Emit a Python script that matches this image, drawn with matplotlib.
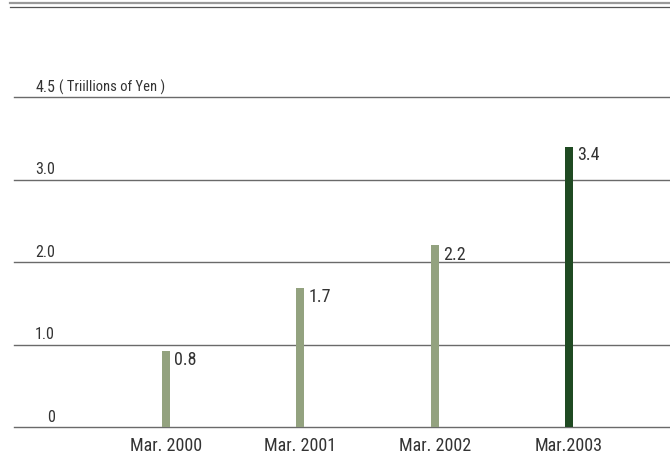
import matplotlib
matplotlib.use("Agg")
import matplotlib.pyplot as plt
from matplotlib.lines import Line2D
import matplotlib.transforms as mtransforms
from matplotlib import font_manager as fm

entries = fm.fontManager.ttflist
names = {f.name for f in entries}
stretch = "normal"
if "Liberation Sans Narrow" in names:
    fam = "Liberation Sans Narrow"
elif "Roboto Condensed" in names:
    fam = "Roboto Condensed"
elif any(f.name == "DejaVu Sans" and "ondensed" in f.fname for f in entries):
    fam = "DejaVu Sans"
    stretch = "condensed"
else:
    fam = "Liberation Sans"
plt.rcParams['font.family'] = [fam, 'DejaVu Sans']
plt.rcParams['font.stretch'] = stretch

categories = ["Mar. 2000", "Mar. 2001", "Mar. 2002", "Mar.2003"]
value_labels = ["0.8", "1.7", "2.2", "3.4"]
bar_heights = [0.92, 1.69, 2.2, 3.4]
bar_colors = ["#93a27f", "#93a27f", "#93a27f", "#1f4a22"]
grid_values = [0, 1, 2, 3, 4]
grid_labels = ["0", "1.0", "2.0", "3.0", "4.5"]
unit_label = "( Triillions of Yen )"

W, H = 670, 455
fig = plt.figure(figsize=(W / 100, H / 100), dpi=100)
fig.patch.set_facecolor("white")

left_px, right_px = 14, 670
bottom_px, top_px = 427, 97
ax = fig.add_axes([left_px / W, 1 - bottom_px / H, (right_px - left_px) / W, (bottom_px - top_px) / H])
ax.set_facecolor("none")

spacing = 134.33
first_px = 166
ax.set_xlim((left_px - first_px) / spacing, (right_px - first_px) / spacing)
ax.set_ylim(0, 4)
for s in ax.spines.values():
    s.set_visible(False)

xs = list(range(len(categories)))
bw = 8 / spacing
ax.bar(xs, bar_heights, width=bw, color=bar_colors, zorder=3)

for g in grid_values:
    ax.axhline(g, color="#6a6a6a", lw=1.0, zorder=2, clip_on=False)

trans = mtransforms.blended_transform_factory(fig.transFigure, ax.transData)
lift = mtransforms.ScaledTranslation(0, 1.5 / 72, fig.dpi_scale_trans)
for g, lab in zip(grid_values, grid_labels):
    ax.text(55 / W, g, lab, transform=trans + lift, ha="right", va="bottom",
            fontsize=11.5, color="#333333")

ax.text(59 / W, 4, unit_label, transform=trans + lift,
        ha="left", va="bottom", fontsize=10.5, color="#333333")

for x, h, lab in zip(xs, bar_heights, value_labels):
    ax.annotate(lab, (x + bw / 2, h), xytext=(3, 0), textcoords="offset points",
                ha="left", va="top", fontsize=13, color="#333333", zorder=4)

ax.set_yticks([])
ax.set_xticks(xs)
ax.set_xticklabels(categories, fontsize=13, color="#333333")
ax.tick_params(axis="x", length=0, pad=7)

# top double rule
fig.add_artist(Line2D([10 / W, 1], [1 - 3 / H, 1 - 3 / H], transform=fig.transFigure, color="#9a9a9a", lw=1.6))
fig.add_artist(Line2D([10 / W, 1], [1 - 6.5 / H, 1 - 6.5 / H], transform=fig.transFigure, color="#555555", lw=0.9))

fig.savefig("out.png", dpi=100, facecolor="white")
